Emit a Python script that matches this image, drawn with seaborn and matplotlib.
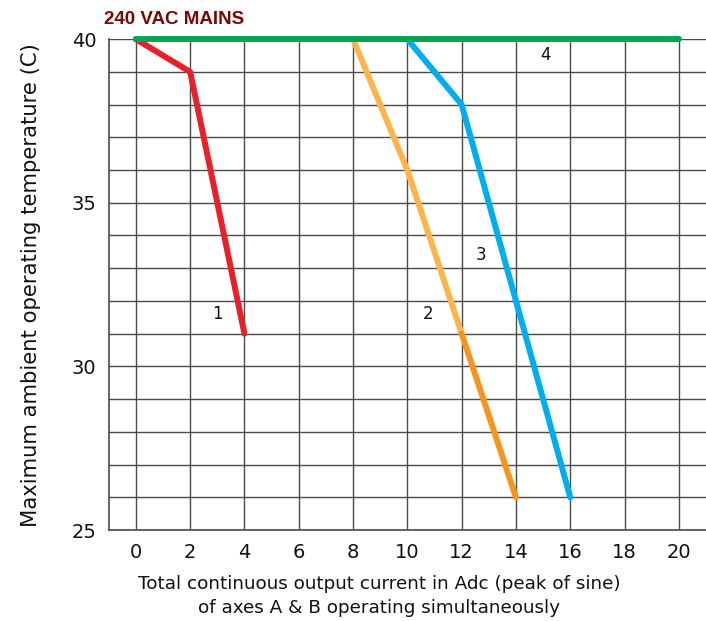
import numpy as np
import pandas as pd
import seaborn as sns
import matplotlib.pyplot as plt

# derating curves
c1_x = [0, 2, 4]
c1_y = [40, 39, 31]
c2a_x = [8, 10, 12]
c2a_y = [40, 36, 31]
c2b_x = [12, 14]
c2b_y = [31, 26]
c3_x = [10, 12, 16]
c3_y = [40, 38, 26]
c4_x = [0, 20]
c4_y = [40, 40]

curve_labels = ["1", "2", "3", "4"]
label_x = [3.0, 10.75, 12.7, 15.1]
label_y = [31.6, 31.6, 33.4, 39.5]

x_ticks = list(range(0, 21, 2))
y_ticks = [25, 30, 35, 40]

sns.set_style("white")
plt.rcParams['font.family'] = ['DejaVu Sans']

fig = plt.figure(figsize=(7.06, 6.21), dpi=100)
ax = fig.add_axes([0.154, 0.1465, 0.846, 0.7905])

series = [
    (c1_x, c1_y, "#E8202A"),
    (c2a_x, c2a_y, "#FDB44A"),
    (c2b_x, c2b_y, "#F7941D"),
    (c3_x, c3_y, "#00AEEF"),
    (c4_x, c4_y, "#00A651"),
]
for xs, ys, col in series:
    df = pd.DataFrame({"x": xs, "y": ys})
    sns.lineplot(data=df, x="x", y="y", ax=ax, color=col, lw=4.3,
                 sort=False, estimator=None, solid_capstyle="round",
                 clip_on=False, zorder=5)

ax.set_xlim(-1, 21)
ax.set_ylim(25, 40)
ax.set_xticks(x_ticks)
ax.set_yticks(y_ticks)
ax.set_yticks(np.arange(25, 41, 1), minor=True)
ax.grid(True, which="both", color="#4a4a4a", lw=1)
ax.tick_params(which="both", length=0, labelsize=14, pad=9, labelcolor="#111111")

for s in ["top", "right"]:
    ax.spines[s].set_visible(False)
for s in ["left", "bottom"]:
    ax.spines[s].set_color("#4a4a4a")
    ax.spines[s].set_linewidth(1.2)

for t, lx, ly in zip(curve_labels, label_x, label_y):
    ax.text(lx, ly, t, fontsize=12, ha="center", va="center", color="#111111")

ax.set_xlabel("Total continuous output current in Adc (peak of sine)\nof axes A & B operating simultaneously",
              fontsize=13.2, linespacing=1.4, color="#111111")
ax.xaxis.set_label_coords(0.453, -0.092)
ax.set_ylabel("Maximum ambient operating temperature (C)", fontsize=15.2,
              labelpad=22, color="#111111")

fig.text(104 / 706, 1 - 19 / 621, "240 VAC MAINS", color="#7A0606", fontsize=13.5,
         fontweight="bold", va="center", ha="left",
         family=["Liberation Sans Narrow", "Liberation Sans"])

fig.savefig("out.png", dpi=100)
